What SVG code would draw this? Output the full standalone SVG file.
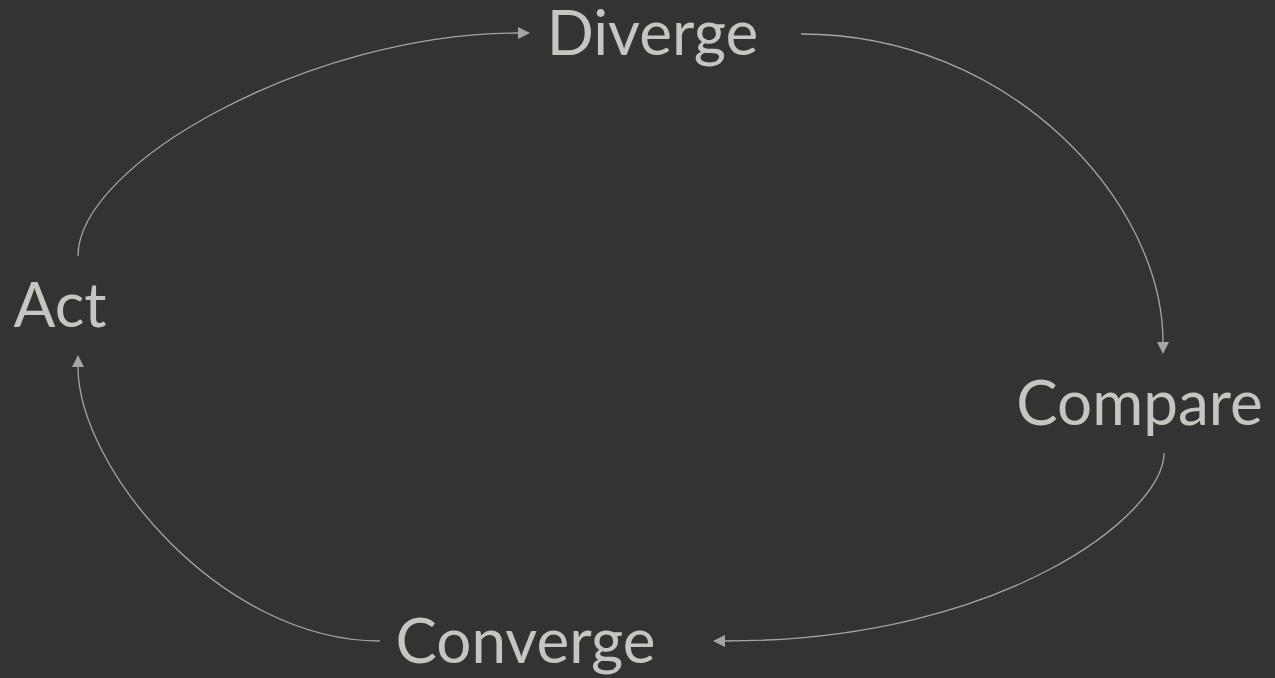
<svg xmlns="http://www.w3.org/2000/svg" width="1275" height="678" viewBox="0 0 1275 678">
<style>
.lbl{font-family:Lato,"Liberation Sans",sans-serif;font-size:62px;fill:#c5c6bf;text-anchor:middle}
.edge{fill:none;stroke:#a5a5a5;stroke-width:1.3}
</style>
<defs>
<marker id="ah" markerWidth="12" markerHeight="12" refX="0" refY="6" orient="auto" markerUnits="userSpaceOnUse">
<path d="M0,0 L12,6 L0,12 Z" fill="#a5a5a5"/>
</marker>
</defs>
<rect width="1275" height="678" fill="#333333"/>
<g id="connectors">
<path class="edge" marker-end="url(#ah)" d="M78,256 C78,164 310,33 518,33"/>
<path class="edge" marker-end="url(#ah)" d="M801,34 C1011,34 1163,202 1163,342"/>
<path class="edge" marker-end="url(#ah)" d="M1164,453 C1164,513 1005,641 725,641"/>
<path class="edge" marker-end="url(#ah)" d="M380,641 C220,641 78,467 78,367"/>
</g>
<g id="diverge"><text class="lbl" x="652.5" y="55">Diverge</text></g>
<g id="compare"><text class="lbl" x="1139.5" y="425">Compare</text></g>
<g id="converge"><text class="lbl" x="525.5" y="663">Converge</text></g>
<g id="act"><text class="lbl" x="60" y="327">Act</text></g>
</svg>
